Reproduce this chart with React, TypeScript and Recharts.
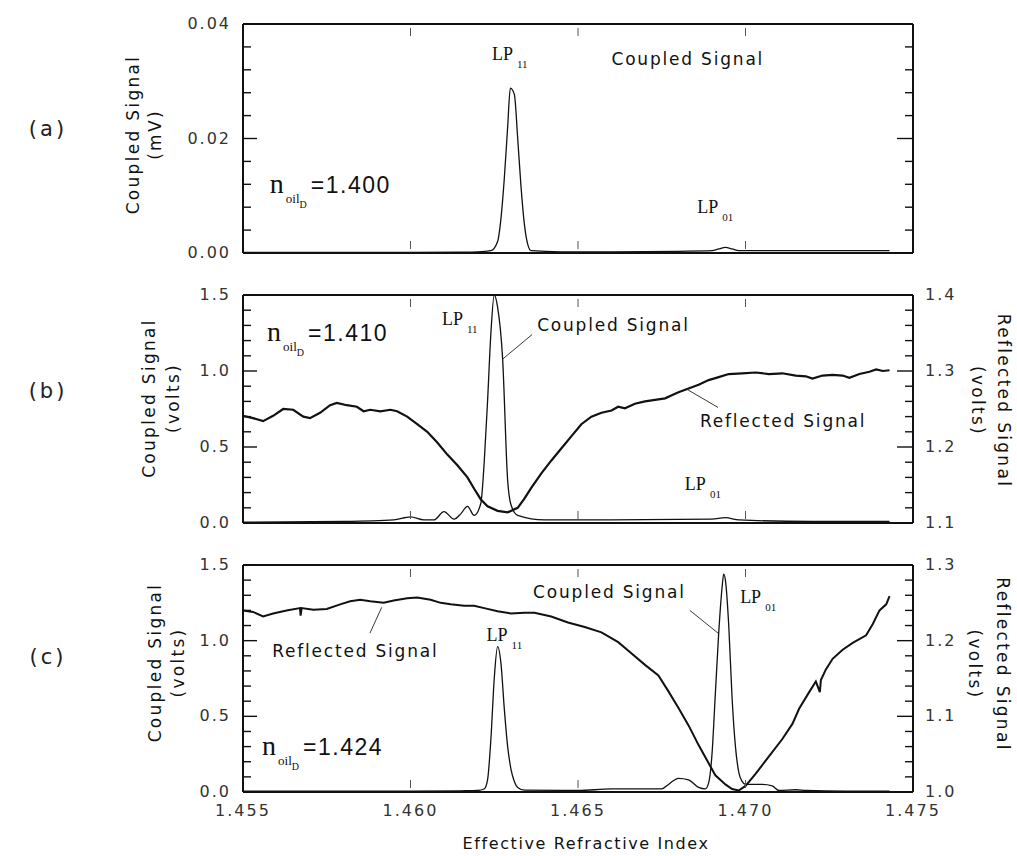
import { LineChart, Line, XAxis, YAxis, ReferenceLine, ReferenceDot } from 'recharts';

// Effective refractive index axis
const xDomain: [number, number] = [1.455, 1.475];
const xTicks = [1.455, 1.46, 1.465, 1.47, 1.475];
const innerXTicks = [1.46, 1.465, 1.47];

const mvTicks = [0, 0.004, 0.008, 0.012, 0.016, 0.02, 0.024, 0.028, 0.032, 0.036, 0.04];
const voltTicks = [0, 0.1, 0.2, 0.3, 0.4, 0.5, 0.6, 0.7, 0.8, 0.9, 1.0, 1.1, 1.2, 1.3, 1.4, 1.5];
const reflTicksB = [1.1, 1.12, 1.14, 1.16, 1.18, 1.2, 1.22, 1.24, 1.26, 1.28, 1.3, 1.32, 1.34, 1.36, 1.38, 1.4];
const reflTicksC = [1.0, 1.02, 1.04, 1.06, 1.08, 1.1, 1.12, 1.14, 1.16, 1.18, 1.2, 1.22, 1.24, 1.26, 1.28, 1.3];

const panelTags = ['(a)', '(b)', '(c)'];
const oilIndex = ['1.400', '1.410', '1.424'];

// (a) coupled signal, mV
const coupledA = [
  [1.455, 0.0001], [1.458, 0.0001], [1.46, 0.0001], [1.4615, 0.00015], [1.462, 0.0002],
  [1.4624, 0.0004], [1.4626, 0.002], [1.4627, 0.006], [1.4628, 0.013], [1.4629, 0.022],
  [1.46298, 0.0288], [1.4631, 0.0277], [1.4632, 0.02], [1.4633, 0.0115], [1.4634, 0.005],
  [1.4635, 0.0015], [1.4636, 0.0004], [1.4645, 0.0002], [1.466, 0.0002], [1.468, 0.0003],
  [1.469, 0.0004], [1.4692, 0.0007], [1.4694, 0.001], [1.4696, 0.0007], [1.4698, 0.0004],
  [1.471, 0.0004], [1.473, 0.0004], [1.4743, 0.0004],
];

// (b) coupled signal, volts
const coupledB = [
  [1.455, 0.005], [1.458, 0.01], [1.4595, 0.02], [1.46, 0.04], [1.4604, 0.02],
  [1.4607, 0.02], [1.461, 0.075], [1.4613, 0.025], [1.4615, 0.06], [1.4617, 0.11],
  [1.4619, 0.05], [1.4621, 0.13], [1.4622, 0.4], [1.4623, 0.8], [1.4624, 1.25],
  [1.4625, 1.5], [1.4626, 1.42], [1.46275, 1.08], [1.4629, 0.28], [1.463, 0.12],
  [1.4632, 0.05], [1.464, 0.02], [1.466, 0.02], [1.469, 0.025], [1.4694, 0.035],
  [1.4698, 0.02], [1.472, 0.01], [1.4743, 0.01],
];

// (b) reflected signal, volts (right axis)
const reflectedB = [
  [1.455, 1.241], [1.4553, 1.238], [1.4556, 1.234], [1.4559, 1.241], [1.4562, 1.25],
  [1.4565, 1.249], [1.4568, 1.24], [1.457, 1.238], [1.4573, 1.245], [1.4576, 1.255],
  [1.4578, 1.258], [1.4581, 1.255], [1.4584, 1.253], [1.4586, 1.247], [1.4588, 1.249],
  [1.4591, 1.247], [1.4594, 1.249], [1.4596, 1.247], [1.4599, 1.24], [1.4602, 1.23],
  [1.4605, 1.22], [1.4608, 1.206], [1.4611, 1.19], [1.4614, 1.176], [1.4617, 1.16],
  [1.4619, 1.145], [1.4621, 1.131], [1.4623, 1.122], [1.4626, 1.116], [1.4629, 1.114],
  [1.4632, 1.12], [1.4634, 1.132], [1.4636, 1.146], [1.4639, 1.165], [1.4642, 1.182],
  [1.4645, 1.198], [1.4648, 1.214], [1.4651, 1.23], [1.4654, 1.24], [1.4657, 1.245],
  [1.466, 1.248], [1.4662, 1.253], [1.4664, 1.251], [1.4667, 1.257], [1.467, 1.26],
  [1.4673, 1.262], [1.4676, 1.264], [1.4678, 1.268], [1.468, 1.272], [1.4683, 1.277],
  [1.4686, 1.282], [1.4689, 1.288], [1.4692, 1.292], [1.4695, 1.296], [1.4699, 1.297],
  [1.4703, 1.298], [1.4707, 1.296], [1.4711, 1.297], [1.4715, 1.294], [1.4718, 1.293],
  [1.472, 1.29], [1.4723, 1.294], [1.4726, 1.295], [1.4729, 1.294], [1.4731, 1.291],
  [1.4734, 1.296], [1.4737, 1.299], [1.4739, 1.302], [1.4741, 1.3], [1.4743, 1.301],
];

// (c) coupled signal, volts
const coupledC = [
  [1.455, 0.005], [1.46, 0.005], [1.4615, 0.008], [1.462, 0.01], [1.4622, 0.02],
  [1.4623, 0.08], [1.4624, 0.35], [1.4625, 0.75], [1.4626, 0.96], [1.4627, 0.85],
  [1.4628, 0.55], [1.4629, 0.3], [1.463, 0.15], [1.4631, 0.07], [1.4632, 0.03],
  [1.4634, 0.012], [1.465, 0.01], [1.466, 0.02], [1.467, 0.02], [1.4675, 0.02],
  [1.4677, 0.05], [1.468, 0.09], [1.4683, 0.08], [1.4686, 0.03], [1.4688, 0.02],
  [1.4689, 0.06], [1.469, 0.25], [1.4691, 0.65], [1.4692, 1.05], [1.4693, 1.35],
  [1.46935, 1.44], [1.4694, 1.4], [1.4695, 1.1], [1.4696, 0.62], [1.4697, 0.3],
  [1.4698, 0.13], [1.4699, 0.07], [1.47, 0.05], [1.4705, 0.05], [1.4708, 0.04],
  [1.471, 0.01], [1.4715, 0.015], [1.4718, 0.01], [1.473, 0.005], [1.4743, 0.005],
];

// (c) reflected signal, volts (right axis)
const reflectedC = [
  [1.455, 1.24], [1.4553, 1.238], [1.4556, 1.232], [1.4559, 1.236], [1.4563, 1.24],
  [1.4567, 1.243], [1.45672, 1.233], [1.45675, 1.243], [1.4571, 1.241], [1.4575, 1.242],
  [1.4579, 1.248], [1.4582, 1.252], [1.4585, 1.254], [1.4588, 1.252], [1.4592, 1.25],
  [1.4595, 1.253], [1.4599, 1.256], [1.4602, 1.257], [1.4606, 1.254], [1.4609, 1.25],
  [1.4612, 1.248], [1.4616, 1.246], [1.4619, 1.246], [1.4622, 1.243], [1.4626, 1.239],
  [1.463, 1.236], [1.4634, 1.237], [1.4637, 1.237], [1.4642, 1.232], [1.4647, 1.224],
  [1.4652, 1.218], [1.4657, 1.211], [1.4662, 1.198], [1.4666, 1.183], [1.467, 1.168],
  [1.4674, 1.154], [1.4677, 1.133], [1.468, 1.111], [1.4683, 1.088], [1.4686, 1.062],
  [1.4689, 1.038], [1.4691, 1.022], [1.4694, 1.01], [1.4696, 1.004], [1.4698, 1.002],
  [1.47, 1.008], [1.4703, 1.024], [1.4707, 1.047], [1.4711, 1.07], [1.4714, 1.09],
  [1.4716, 1.11], [1.4719, 1.132], [1.4721, 1.146], [1.47222, 1.132], [1.47225, 1.148],
  [1.4724, 1.162], [1.4726, 1.176], [1.4729, 1.188], [1.4732, 1.197], [1.4736, 1.207],
  [1.4738, 1.222], [1.474, 1.24], [1.4742, 1.248], [1.4743, 1.259],
];

type Pt = { x: number; y: number };
const toPts = (rows: number[][]): Pt[] => rows.map(([x, y]) => ({ x, y }));

const W = 1017;
const frame = { stroke: '#111', strokeWidth: 2 };
const tickText = { fontFamily: 'DejaVu Sans', fontSize: 16, letterSpacing: 2, fill: '#333' };
const titleText = { fontFamily: 'DejaVu Sans', fontSize: 17, letterSpacing: 2.3, fill: '#111' };
const noteText = { fontFamily: 'DejaVu Sans', fontSize: 17, letterSpacing: 1.8, fill: '#111' };
const serif = { fontFamily: 'Liberation Serif', fill: '#111' };

const isMajor = (v: number, step: number) => Math.abs(v / step - Math.round(v / step)) < 1e-6;

const leftTick = (step: number, digits: number) => (p: any) => {
  const v = p.payload.value;
  const major = isMajor(v, step);
  return (
    <g>
      <line x1={p.x} x2={p.x + (major ? 14 : 8)} y1={p.y} y2={p.y} stroke="#111" strokeWidth={1.4} />
      {major && (
        <text x={p.x - 12} y={p.y + 5} textAnchor="end" {...tickText}>
          {v.toFixed(digits)}
        </text>
      )}
    </g>
  );
};

const rightTick = (step: number, labels: boolean) => (p: any) => {
  const v = p.payload.value;
  const major = isMajor(v, step);
  return (
    <g>
      <line x1={p.x} x2={p.x - (major ? 16 : 8)} y1={p.y} y2={p.y} stroke="#111" strokeWidth={1.4} />
      {labels && major && (
        <text x={p.x + 12} y={p.y + 5} textAnchor="start" {...tickText}>
          {v.toFixed(1)}
        </text>
      )}
    </g>
  );
};

const bottomTick = (labels: boolean) => (p: any) => {
  const v = p.payload.value;
  const inner = innerXTicks.some((t) => Math.abs(t - v) < 1e-9);
  return (
    <g>
      {inner && <line x1={p.x} x2={p.x} y1={p.y - 4} y2={p.y - 12} stroke="#555" strokeWidth={1} />}
      {labels && (
        <text x={p.x} y={p.y + 24} textAnchor="middle" {...tickText}>
          {v.toFixed(3)}
        </text>
      )}
    </g>
  );
};

const topTick = (p: any) => (
  <line x1={p.x} x2={p.x} y1={p.y + 4} y2={p.y + 12} stroke="#555" strokeWidth={1} />
);

const axisTitle = (lines: string[], cols: number[], shift: number, angle: number) => (props: any) => {
  const vb = props.viewBox || { y: 0, height: 0 };
  const cy = vb.y + vb.height / 2 + shift;
  return (
    <g>
      {lines.map((t, i) => (
        <text
          key={t}
          x={cols[i]}
          y={cy}
          transform={`rotate(${angle} ${cols[i]} ${cy})`}
          textAnchor="middle"
          dominantBaseline="central"
          {...titleText}
        >
          {t}
        </text>
      ))}
    </g>
  );
};

const lpLabel = (sub: string) => (p: any) => (
  <text x={p.cx} y={p.cy} fontSize={18} {...serif}>
    LP<tspan fontSize={11} dx={4} dy={8}>{sub}</tspan>
  </text>
);

const oilLabel = (value: string) => (p: any) => (
  <text x={p.cx} y={p.cy} fontSize={28} {...serif}>
    n<tspan fontSize={13} dx={2} dy={10}>oil</tspan>
    <tspan fontSize={10} dy={5}>D</tspan>
    <tspan fontFamily="Liberation Sans" fontSize={23} letterSpacing={1.5} dx={4} dy={-15}>{`=${value}`}</tspan>
  </text>
);

const plainLabel = (text: string) => (p: any) => (
  <text x={p.cx} y={p.cy} {...noteText}>
    {text}
  </text>
);

interface PanelProps {
  top: number;
  height: number;
  mTop: number;
  mBottom: number;
  leftDomain: [number, number];
  leftTicks: number[];
  leftStep: number;
  leftDigits: number;
  rightDomain: [number, number];
  rightTicks: number[];
  rightStep: number;
  rightLabels: boolean;
  xLabels: boolean;
  leftTitle: string[];
  leftCols: number[];
  leftShift: number;
  rightTitle?: string[];
  rightCols?: number[];
  rightShift?: number;
  children: React.ReactNode;
}

// the x axes are 1px tall so that Recharts still draws them; margins absorb that pixel
function Panel(p: PanelProps) {
  return (
    <div style={{ position: 'absolute', left: 0, top: p.top }}>
      <LineChart width={W} height={p.height} margin={{ top: p.mTop - 1, bottom: p.mBottom - 1, left: 133, right: 44 }}>
        <XAxis
          xAxisId="b"
          dataKey="x"
          type="number"
          domain={xDomain}
          allowDataOverflow
          ticks={p.xLabels ? xTicks : innerXTicks}
          interval={0}
          height={1}
          tickSize={0}
          tickMargin={0}
          tickLine={false}
          axisLine={frame}
          tick={bottomTick(p.xLabels)}
        />
        <XAxis
          xAxisId="t"
          orientation="top"
          dataKey="x"
          type="number"
          domain={xDomain}
          allowDataOverflow
          ticks={innerXTicks}
          interval={0}
          height={1}
          tickSize={0}
          tickMargin={0}
          tickLine={false}
          axisLine={frame}
          tick={topTick}
        />
        <YAxis
          yAxisId="l"
          type="number"
          domain={p.leftDomain}
          allowDataOverflow
          ticks={p.leftTicks}
          interval={0}
          width={110}
          tickSize={0}
          tickMargin={0}
          tickLine={false}
          axisLine={frame}
          tick={leftTick(p.leftStep, p.leftDigits)}
          label={axisTitle(p.leftTitle, p.leftCols, p.leftShift, -90)}
        />
        <YAxis
          yAxisId="r"
          orientation="right"
          type="number"
          domain={p.rightDomain}
          allowDataOverflow
          ticks={p.rightTicks}
          interval={0}
          width={60}
          tickSize={0}
          tickMargin={0}
          tickLine={false}
          axisLine={frame}
          tick={rightTick(p.rightStep, p.rightLabels)}
          label={p.rightTitle ? axisTitle(p.rightTitle, p.rightCols || [], p.rightShift || 0, 90) : undefined}
        />
        {p.children}
      </LineChart>
    </div>
  );
}

const leader = { stroke: '#222', strokeWidth: 0.9, ifOverflow: 'visible' as const };

export default function App() {
  return (
    <div style={{ position: 'absolute', left: 0, top: 0, width: W, height: 856, background: '#fff', overflow: 'hidden' }}>
      {/* (a) n_oil = 1.400 */}
      <Panel
        top={0}
        height={273}
        mTop={24}
        mBottom={20}
        leftDomain={[0, 0.04]}
        leftTicks={mvTicks}
        leftStep={0.02}
        leftDigits={2}
        rightDomain={[0, 0.04]}
        rightTicks={mvTicks}
        rightStep={0.02}
        rightLabels={false}
        xLabels={false}
        leftTitle={['Coupled Signal', '(mV)']}
        leftCols={[133, 155]}
        leftShift={-4}
      >
        <Line xAxisId="b" yAxisId="l" data={toPts(coupledA)} dataKey="y" type="monotone" stroke="#111" strokeWidth={1.3} dot={false} activeDot={false} isAnimationActive={false} />
        <ReferenceDot xAxisId="b" yAxisId="l" x={1.46243} y={0.0337} r={0} shape={lpLabel('11')} />
        <ReferenceDot xAxisId="b" yAxisId="l" x={1.466} y={0.0328} r={0} shape={plainLabel('Coupled Signal')} />
        <ReferenceDot xAxisId="b" yAxisId="l" x={1.46856} y={0.007} r={0} shape={lpLabel('01')} />
        <ReferenceDot xAxisId="b" yAxisId="l" x={1.4558} y={0.0105} r={0} shape={oilLabel(oilIndex[0])} />
      </Panel>

      {/* (b) n_oil = 1.410 */}
      <Panel
        top={273}
        height={270}
        mTop={22}
        mBottom={20}
        leftDomain={[0, 1.5]}
        leftTicks={voltTicks}
        leftStep={0.5}
        leftDigits={1}
        rightDomain={[1.1, 1.4]}
        rightTicks={reflTicksB}
        rightStep={0.1}
        rightLabels
        xLabels={false}
        leftTitle={['Coupled Signal', '(volts)']}
        leftCols={[149, 173]}
        leftShift={-11}
        rightTitle={['Reflected Signal', '(volts)']}
        rightCols={[1004, 978]}
        rightShift={-8}
      >
        <Line xAxisId="b" yAxisId="r" data={toPts(reflectedB)} dataKey="y" type="linear" stroke="#111" strokeWidth={2.2} dot={false} activeDot={false} isAnimationActive={false} />
        <Line xAxisId="b" yAxisId="l" data={toPts(coupledB)} dataKey="y" type="monotone" stroke="#111" strokeWidth={1.3} dot={false} activeDot={false} isAnimationActive={false} />
        <ReferenceLine xAxisId="b" yAxisId="l" segment={[{ x: 1.46363, y: 1.24 }, { x: 1.46276, y: 1.08 }]} {...leader} />
        <ReferenceLine xAxisId="b" yAxisId="r" segment={[{ x: 1.46918, y: 1.252 }, { x: 1.46825, y: 1.276 }]} {...leader} />
        <ReferenceDot xAxisId="b" yAxisId="l" x={1.46094} y={1.3} r={0} shape={lpLabel('11')} />
        <ReferenceDot xAxisId="b" yAxisId="l" x={1.46378} y={1.26} r={0} shape={plainLabel('Coupled Signal')} />
        <ReferenceDot xAxisId="b" yAxisId="r" x={1.46864} y={1.226} r={0} shape={plainLabel('Reflected Signal')} />
        <ReferenceDot xAxisId="b" yAxisId="l" x={1.46819} y={0.22} r={0} shape={lpLabel('01')} />
        <ReferenceDot xAxisId="b" yAxisId="l" x={1.45572} y={1.2} r={0} shape={oilLabel(oilIndex[1])} />
      </Panel>

      {/* (c) n_oil = 1.424 */}
      <Panel
        top={543}
        height={313}
        mTop={22}
        mBottom={64}
        leftDomain={[0, 1.5]}
        leftTicks={voltTicks}
        leftStep={0.5}
        leftDigits={1}
        rightDomain={[1.0, 1.3]}
        rightTicks={reflTicksC}
        rightStep={0.1}
        rightLabels
        xLabels
        leftTitle={['Coupled Signal', '(volts)']}
        leftCols={[155, 178]}
        leftShift={-16}
        rightTitle={['Reflected Signal', '(volts)']}
        rightCols={[1003, 975]}
        rightShift={-14}
      >
        <Line xAxisId="b" yAxisId="r" data={toPts(reflectedC)} dataKey="y" type="linear" stroke="#111" strokeWidth={2} dot={false} activeDot={false} isAnimationActive={false} />
        <Line xAxisId="b" yAxisId="l" data={toPts(coupledC)} dataKey="y" type="monotone" stroke="#111" strokeWidth={1.3} dot={false} activeDot={false} isAnimationActive={false} />
        <ReferenceLine xAxisId="b" yAxisId="l" segment={[{ x: 1.45879, y: 1.05 }, { x: 1.45914, y: 1.22 }]} {...leader} />
        <ReferenceLine xAxisId="b" yAxisId="l" segment={[{ x: 1.46834, y: 1.2 }, { x: 1.46918, y: 1.05 }]} {...leader} />
        <ReferenceDot xAxisId="b" yAxisId="l" x={1.45587} y={0.89} r={0} shape={plainLabel('Reflected Signal')} />
        <ReferenceDot xAxisId="b" yAxisId="l" x={1.46227} y={1.0} r={0} shape={lpLabel('11')} />
        <ReferenceDot xAxisId="b" yAxisId="l" x={1.46366} y={1.28} r={0} shape={plainLabel('Coupled Signal')} />
        <ReferenceDot xAxisId="b" yAxisId="l" x={1.46984} y={1.25} r={0} shape={lpLabel('01')} />
        <ReferenceDot xAxisId="b" yAxisId="l" x={1.45557} y={0.245} r={0} shape={oilLabel(oilIndex[2])} />
      </Panel>

      {panelTags.map((t, i) => (
        <div
          key={t}
          style={{
            position: 'absolute',
            left: 18,
            width: 60,
            top: [129, 391, 657][i] - 13,
            textAlign: 'center',
            fontFamily: 'DejaVu Sans',
            fontSize: 21,
            letterSpacing: 3,
            lineHeight: '26px',
            color: '#222',
          }}
        >
          {t}
        </div>
      ))}

      <div
        style={{
          position: 'absolute',
          left: 251,
          width: 670,
          top: 835,
          textAlign: 'center',
          fontFamily: 'DejaVu Sans',
          fontSize: 16,
          letterSpacing: 1.6,
          lineHeight: '18px',
          color: '#111',
        }}
      >
        Effective Refractive Index
      </div>
    </div>
  );
}
